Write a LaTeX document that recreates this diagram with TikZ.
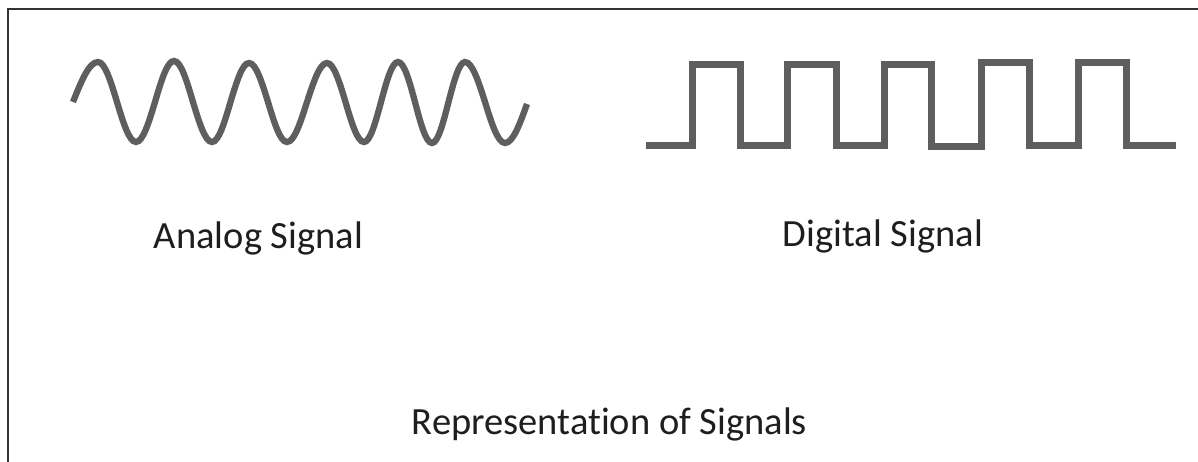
\documentclass[tikz,border=0pt]{standalone}
\usepackage{fontspec}
\setmainfont{Carlito}[Ligatures=NoCommon]
\definecolor{wavegray}{HTML}{5E5E5E}
\definecolor{framegray}{HTML}{333333}
\definecolor{textcol}{HTML}{1E1E1E}
\tikzset{
  wave/.style={draw=wavegray, line width=6.3pt},
  square/.style={draw=wavegray, line width=7pt, line join=miter},
  label/.style={anchor=base, inner sep=0pt, text=textcol, font=\fontsize{38.5}{42}\selectfont},
  frame/.style={draw=framegray, line width=2pt}
}
\begin{document}
\begin{tikzpicture}[x=1pt, y=-1pt]
\useasboundingbox (0,0) rectangle (1198,462);
\fill[white] (0,0) rectangle (1198,462);
% frame (left and top edges only)
\draw[frame] (8,462) -- (8,9) -- (1198,9);
% analog wave
\draw[wave] (73,102) sin (98,62) cos (117,102) sin (136,142) cos (155,102)
  sin (174,61) cos (193,102) sin (212,142) cos (230.5,102)
  sin (249,63) cos (268,102) sin (287,142) cos (307,102)
  sin (327,63) cos (345.5,102) sin (364,142) cos (381,102)
  sin (398,62) cos (415,102) sin (432,143) cos (448.5,102)
  sin (465,62) cos (485,102) sin (505,143) cos (527,104);
% digital wave
\draw[square] (646,145.5) -- (692,145.5) -- (692,64.5) -- (740.5,64.5) -- (740.5,145.5)
  -- (787.5,145.5) -- (787.5,64.5) -- (836,64.5) -- (836,145.5)
  -- (884,145.5) -- (884,64.5) -- (931,64.5) -- (931,147)
  -- (981.5,147) -- (981.5,63) -- (1029,63) -- (1029,145.5)
  -- (1078,145.5) -- (1078,63) -- (1126,63) -- (1126,145.5) -- (1176,145.5);
% labels
\node[label] (analog) at (258.5,248) {Analog Signal};
\node[label] (digital) at (883,247) {Digital Signal};
\node[label] (title) at (609.5,434) {Representation of Signals};
\end{tikzpicture}
\end{document}
